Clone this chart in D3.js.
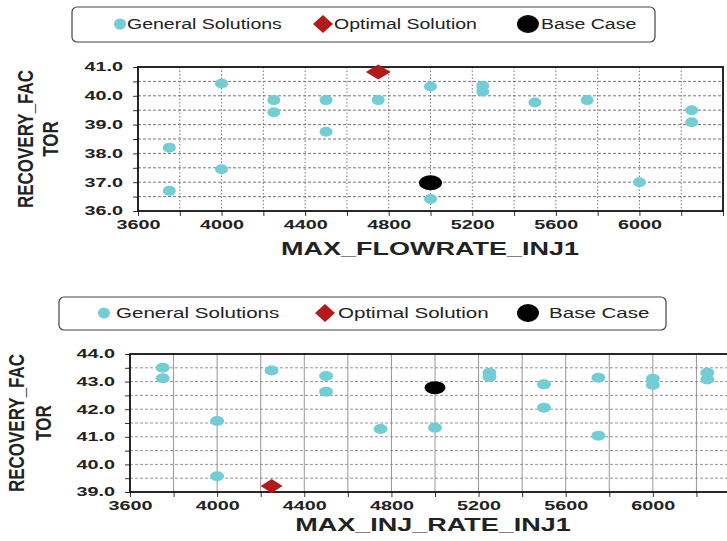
<!DOCTYPE html>
<html>
<head>
<meta charset="utf-8">
<script src="https://cdn.jsdelivr.net/npm/d3@7"></script>
<style>
  body { margin: 0; background: #fff; }
  svg { display: block; font-family: "Liberation Sans", Arial, sans-serif; }
</style>
</head>
<body>
<div id="chart"></div>
<script>
// ---- data ----
var legendLabels = ["General Solutions", "Optimal Solution", "Base Case"];
var yTitleLines = ["RECOVERY_FAC", "TOR"];

// panel 1 : MAX_FLOWRATE_INJ1
var xTitle1 = "MAX_FLOWRATE_INJ1";
var genX1 = [4000, 4250, 4250, 4500, 4500, 4750, 3750, 4000, 3750,
             5000, 5250, 5250, 5500, 5750, 6250, 6250, 6000, 5000];
var genY1 = [40.43, 39.85, 39.43, 39.85, 38.75, 39.85, 38.2, 37.45, 36.7,
             40.32, 40.35, 40.15, 39.77, 39.85, 39.5, 39.08, 37.0, 36.42];
var optX1 = [4750], optY1 = [40.83];
var baseX1 = [5000], baseY1 = [36.98];

// panel 2 : MAX_INJ_RATE_INJ1
var xTitle2 = "MAX_INJ_RATE_INJ1";
var genX2 = [3750, 3750, 4250, 4500, 4500, 4000, 4000, 4750,
             5000, 5250, 5250, 5500, 5500, 5750, 5750, 6000, 6000, 6250, 6250];
var genY2 = [43.5, 43.12, 43.4, 43.2, 42.63, 41.57, 39.57, 41.28,
             41.33, 43.32, 43.17, 42.9, 42.05, 43.14, 41.04, 43.1, 42.88, 43.32, 43.08];
var optX2 = [4250], optY2 = [39.22];
var baseX2 = [5000], baseY2 = [42.78];

var xDomain = [3600, 6400];
var yDomain1 = [36, 41];
var yDomain2 = [39, 44];

var cyan = "#72cdd5", red = "#b31b1b", black = "#000";

// ---- layout ----
var W = 727, H = 541;
var svg = d3.select("#chart").append("svg").attr("width", W).attr("height", H);

var panels = [
  { x0: 138, x1: 723, y0: 67, y1: 211, yDomain: yDomain1, xTitle: xTitle1,
    gx: genX1, gy: genY1, ox: optX1, oy: optY1, bx: baseX1, by: baseY1,
    legend: { box: [72, 7, 655, 42], cx: [120, 323, 528], tx: [127, 334, 541], cy: 24, sx: 1.3 },
    yTitleX: [25, 50], xTitleX: 430, xTitleY: 255, solidV: false,
    dot: [6.5, 5], base: [11.5, 7.5], dia: [12.5, 7.5] },
  { x0: 130, x1: 740, y0: 354, y1: 492, yDomain: yDomain2, xTitle: xTitle2,
    gx: genX2, gy: genY2, ox: optX2, oy: optY2, bx: baseX2, by: baseY2,
    legend: { box: [59, 297, 666, 330], cx: [104, 325, 528], tx: [116, 338, 549], cy: 313, sx: 1.37 },
    yTitleX: [16, 43], xTitleX: 433, xTitleY: 531, solidV: true,
    dot: [7, 5], base: [10.5, 6.5], dia: [11, 7] }
];

var TICK_SX = 1.65;

function circlePath() {
  return d3.symbol().type(d3.symbolCircle).size(Math.PI)();   // r = 1
}
function diamondPath() {
  return d3.symbol().type(d3.symbolSquare).size(2)();          // half diagonal = 1
}

function drawMarker(g, x, y, kind, size) {
  if (kind === "dia") {
    g.append("path").attr("d", diamondPath())
      .attr("transform", "translate(" + x + "," + y + ") scale(" + size[0] + "," + size[1] + ") rotate(45)")
      .attr("fill", red);
  } else {
    g.append("path").attr("d", circlePath())
      .attr("transform", "translate(" + x + "," + y + ") scale(" + size[0] + "," + size[1] + ")")
      .attr("fill", kind === "base" ? black : cyan);
  }
}

function drawPanel(p) {
  var g = svg.append("g");
  var x = d3.scaleLinear().domain(xDomain).range([p.x0, p.x1]);
  var y = d3.scaleLinear().domain(p.yDomain).range([p.y1, p.y0]);

  // legend
  var lb = p.legend.box;
  g.append("rect").attr("x", lb[0]).attr("y", lb[1])
    .attr("width", lb[2] - lb[0]).attr("height", lb[3] - lb[1])
    .attr("rx", 5).attr("fill", "#fff").attr("stroke", "#444").attr("stroke-width", 1.2);
  var kinds = ["gen", "dia", "base"];
  var lsize = { gen: [6, 5.5], dia: [10, 9], base: [11, 9] };
  kinds.forEach(function(k, i) {
    drawMarker(g, p.legend.cx[i], p.legend.cy, k, lsize[k]);
    g.append("g").attr("transform", "translate(" + p.legend.tx[i] + "," + p.legend.cy + ")")
      .append("text")
      .attr("transform", "scale(" + p.legend.sx + ",1)")
      .attr("dy", "0.36em")
      .attr("font-size", 15).attr("fill", "#222")
      .text(legendLabels[i]);
  });

  // grid
  var yGrid = d3.range(p.yDomain[0] + 0.5, p.yDomain[1], 0.5);
  var xGrid = d3.range(xDomain[0] + 200, xDomain[1], 200);
  g.append("g").selectAll("line").data(xGrid).enter().append("line")
    .attr("x1", function(d) { return x(d); }).attr("x2", function(d) { return x(d); })
    .attr("y1", p.y0).attr("y2", p.y1)
    .attr("stroke", p.solidV ? "#8a8a8a" : "#777")
    .attr("stroke-width", p.solidV ? 0.9 : 1)
    .attr("stroke-dasharray", p.solidV ? null : "1.5,2");
  g.append("g").selectAll("line").data(yGrid).enter().append("line")
    .attr("x1", p.x0).attr("x2", p.x1)
    .attr("y1", function(d) { return y(d); }).attr("y2", function(d) { return y(d); })
    .attr("stroke", p.solidV ? "#888" : "#666")
    .attr("stroke-width", 0.9)
    .attr("stroke-dasharray", "3,2");

  // axes
  var xAxis = d3.axisBottom(x)
    .tickValues(d3.range(xDomain[0], xDomain[1] + 1, 200))
    .tickSize(5).tickPadding(4)
    .tickFormat(function(d) { return (d % 400 === 0 && d < xDomain[1]) ? d : ""; });
  var gx = g.append("g").attr("transform", "translate(0," + p.y1 + ")").call(xAxis);
  gx.select(".domain").remove();
  gx.selectAll("line").attr("stroke", "#333");
  gx.selectAll("text").attr("transform", "scale(" + TICK_SX + ",1)")
    .attr("font-size", 12).attr("font-weight", "bold").attr("fill", "#222")
    .attr("font-family", "Liberation Sans, Arial, sans-serif");

  var yAxis = d3.axisLeft(y)
    .tickValues(d3.range(p.yDomain[0], p.yDomain[1] + 0.01, 0.5))
    .tickSize(5).tickPadding(10)
    .tickFormat(function(d) { return Number.isInteger(d) ? d.toFixed(1) : ""; });
  var gy = g.append("g").attr("transform", "translate(" + p.x0 + ",0)").call(yAxis);
  gy.select(".domain").remove();
  gy.selectAll("line").attr("stroke", "#333");
  gy.selectAll("text").attr("transform", "scale(" + TICK_SX + ",1)")
    .attr("x", -15 / TICK_SX)
    .attr("font-size", 12).attr("font-weight", "bold").attr("fill", "#222")
    .attr("font-family", "Liberation Sans, Arial, sans-serif");

  // frame
  g.append("rect").attr("x", p.x0).attr("y", p.y0)
    .attr("width", p.x1 - p.x0).attr("height", p.y1 - p.y0)
    .attr("fill", "none").attr("stroke", "#111").attr("stroke-width", 1.8);

  // points
  var pts = g.append("g");
  p.gx.forEach(function(v, i) { drawMarker(pts, x(v), y(p.gy[i]), "gen", p.dot); });
  p.bx.forEach(function(v, i) { drawMarker(pts, x(v), y(p.by[i]), "base", p.base); });
  p.ox.forEach(function(v, i) { drawMarker(pts, x(v), y(p.oy[i]), "dia", p.dia); });

  // titles
  g.append("g").attr("transform", "translate(" + p.xTitleX + "," + p.xTitleY + ")")
    .append("text").attr("transform", "scale(1.5,1)")
    .attr("text-anchor", "middle").attr("font-size", 18).attr("font-weight", "bold")
    .attr("fill", "#222").text(p.xTitle);

  var cy = (p.y0 + p.y1) / 2;
  yTitleLines.forEach(function(t, i) {
    g.append("g").attr("transform", "translate(" + p.yTitleX[i] + "," + cy + ") rotate(-90)")
      .append("text").attr("transform", "scale(1,1.35)")
      .attr("text-anchor", "middle").attr("dy", "0.36em")
      .attr("font-size", 17).attr("font-weight", "bold").attr("fill", "#222")
      .text(t);
  });
}

panels.forEach(drawPanel);
</script>
</body>
</html>
